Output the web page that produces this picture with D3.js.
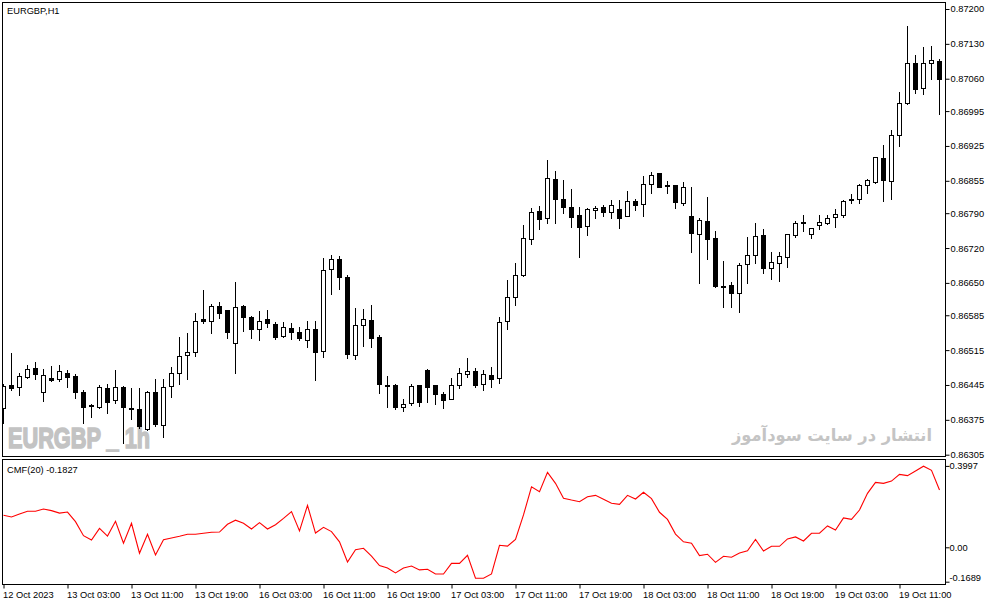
<!DOCTYPE html>
<html>
<head>
<meta charset="utf-8">
<script src="https://cdn.jsdelivr.net/npm/d3@7"></script>
<style>
  body { margin: 0; background: #fff; }
  svg text { font-family: "Liberation Sans", Arial, sans-serif; font-size: 9.3px; fill: #000; }
</style>
</head>
<body>
<div id="chart"></div>
<script>
// EURGBP H1 candles (index 0 = 12 Oct 19:00)
const opens = [0.86399,0.86445,0.86441,0.86461,0.86479,0.86431,0.86459,0.86457,0.86469,0.86463,
  0.86431,0.86405,0.86401,0.86439,0.86415,0.86441,0.86399,0.86397,0.86357,0.86431,
  0.86365,0.86443,0.86469,0.86505,0.86511,0.86578,0.86574,0.86604,0.86596,0.86529,
  0.86604,0.86582,0.86557,0.86578,0.86568,0.86543,0.86559,0.86551,0.86535,0.86557,
  0.86513,0.86678,0.86698,0.86662,0.86505,0.86566,0.86576,0.86541,0.86445,0.86445,
  0.86401,0.86409,0.86445,0.86475,0.86445,0.86427,0.86417,0.86445,0.86467,0.86473,
  0.86447,0.86465,0.86459,0.86574,0.86622,0.86666,0.86738,0.86794,0.86780,0.86859,
  0.86819,0.86802,0.86786,0.86764,0.86796,0.86802,0.86792,0.86798,0.86784,0.86815,
  0.86808,0.86849,0.86871,0.86847,0.86847,0.86810,0.86784,0.86748,0.86774,0.86740,
  0.86644,0.86646,0.86630,0.86688,0.86706,0.86746,0.86680,0.86690,0.86702,0.86746,
  0.86772,0.86748,0.86766,0.86770,0.86782,0.86786,0.86817,0.86819,0.86847,0.86853,
  0.86901,0.86855,0.86947,0.87011,0.87092,0.87041,0.87092,0.87096];
const highs = [0.86447,0.86509,0.86469,0.86485,0.86491,0.86477,0.86483,0.86485,0.86475,0.86467,
  0.86435,0.86407,0.86445,0.86447,0.86475,0.86443,0.86439,0.86439,0.86433,0.86457,
  0.86457,0.86481,0.86541,0.86549,0.86590,0.86636,0.86608,0.86612,0.86596,0.86652,
  0.86606,0.86584,0.86594,0.86596,0.86572,0.86572,0.86570,0.86562,0.86574,0.86574,
  0.86700,0.86706,0.86704,0.86666,0.86600,0.86598,0.86606,0.86545,0.86463,0.86447,
  0.86417,0.86447,0.86445,0.86477,0.86445,0.86431,0.86459,0.86479,0.86499,0.86479,
  0.86475,0.86481,0.86582,0.86656,0.86690,0.86766,0.86800,0.86804,0.86897,0.86875,
  0.86857,0.86839,0.86802,0.86800,0.86804,0.86806,0.86817,0.86817,0.86835,0.86819,
  0.86865,0.86873,0.86871,0.86855,0.86847,0.86853,0.86843,0.86780,0.86822,0.86754,
  0.86694,0.86652,0.86690,0.86742,0.86770,0.86758,0.86712,0.86712,0.86748,0.86774,
  0.86786,0.86760,0.86786,0.86786,0.86798,0.86817,0.86829,0.86849,0.86859,0.86903,
  0.86927,0.86957,0.87033,0.87166,0.87108,0.87124,0.87126,0.87100];
const lows = [0.86369,0.86435,0.86425,0.86459,0.86457,0.86413,0.86453,0.86453,0.86441,0.86419,
  0.86369,0.86381,0.86399,0.86389,0.86409,0.86328,0.86377,0.86359,0.86355,0.86363,
  0.86341,0.86421,0.86447,0.86457,0.86503,0.86570,0.86549,0.86580,0.86539,0.86469,
  0.86553,0.86539,0.86535,0.86562,0.86537,0.86541,0.86537,0.86535,0.86521,0.86455,
  0.86501,0.86628,0.86638,0.86499,0.86497,0.86523,0.86521,0.86429,0.86401,0.86397,
  0.86393,0.86405,0.86403,0.86411,0.86407,0.86399,0.86417,0.86439,0.86461,0.86441,
  0.86435,0.86441,0.86449,0.86557,0.86606,0.86664,0.86728,0.86758,0.86770,0.86770,
  0.86790,0.86762,0.86702,0.86746,0.86780,0.86784,0.86780,0.86760,0.86784,0.86796,
  0.86784,0.86830,0.86843,0.86830,0.86800,0.86806,0.86712,0.86650,0.86698,0.86642,
  0.86602,0.86602,0.86592,0.86650,0.86690,0.86670,0.86658,0.86654,0.86682,0.86742,
  0.86754,0.86740,0.86758,0.86768,0.86762,0.86782,0.86810,0.86810,0.86830,0.86851,
  0.86815,0.86819,0.86925,0.87009,0.87031,0.87029,0.87059,0.86989];
const closes = [0.86443,0.86439,0.86463,0.86477,0.86467,0.86465,0.86455,0.86473,0.86461,0.86431,
  0.86401,0.86403,0.86441,0.86411,0.86441,0.86401,0.86397,0.86363,0.86431,0.86367,
  0.86441,0.86469,0.86503,0.86511,0.86574,0.86574,0.86604,0.86590,0.86551,0.86602,
  0.86582,0.86557,0.86574,0.86570,0.86541,0.86562,0.86551,0.86539,0.86557,0.86511,
  0.86676,0.86698,0.86662,0.86507,0.86566,0.86578,0.86539,0.86447,0.86443,0.86401,
  0.86407,0.86443,0.86411,0.86441,0.86427,0.86415,0.86445,0.86469,0.86473,0.86445,
  0.86467,0.86457,0.86572,0.86622,0.86666,0.86740,0.86792,0.86778,0.86861,0.86819,
  0.86802,0.86782,0.86762,0.86798,0.86800,0.86792,0.86806,0.86780,0.86815,0.86806,
  0.86849,0.86867,0.86843,0.86845,0.86812,0.86843,0.86750,0.86776,0.86738,0.86644,
  0.86642,0.86630,0.86686,0.86706,0.86744,0.86680,0.86692,0.86704,0.86748,0.86770,
  0.86770,0.86760,0.86772,0.86780,0.86788,0.86815,0.86819,0.86847,0.86857,0.86903,
  0.86857,0.86947,0.87011,0.87092,0.87039,0.87092,0.87098,0.87059];

// Chaikin Money Flow (20), one value per bar
const cmfValues = [0.157,0.149,0.163,0.177,0.177,0.188,0.180,0.168,0.173,0.126,
  0.057,0.036,0.093,0.055,0.128,0.020,0.118,-0.029,0.064,-0.038,
  0.037,0.046,0.054,0.064,0.064,0.069,0.074,0.075,0.113,0.133,
  0.118,0.090,0.121,0.090,0.111,0.142,0.175,0.080,0.206,0.070,
  0.098,0.077,0.027,-0.072,-0.012,-0.005,-0.043,-0.090,-0.102,-0.126,
  -0.102,-0.092,-0.111,-0.108,-0.131,-0.131,-0.079,-0.079,-0.039,-0.152,
  -0.152,-0.131,0.010,0.006,0.039,0.159,0.297,0.273,0.368,0.314,
  0.241,0.232,0.224,0.248,0.255,0.236,0.216,0.211,0.255,0.237,
  0.270,0.239,0.172,0.137,0.065,0.027,0.020,-0.041,-0.034,-0.074,
  -0.044,-0.049,-0.028,-0.017,0.039,-0.018,0.005,0.005,0.041,0.051,
  0.031,0.069,0.069,0.105,0.085,0.144,0.137,0.183,0.265,0.319,
  0.314,0.325,0.358,0.352,0.375,0.398,0.378,0.281];

// Time axis labels, one every 8 bars
const timeLabels = ["12 Oct 2023", "13 Oct 03:00", "13 Oct 11:00", "13 Oct 19:00", "16 Oct 03:00",
  "16 Oct 11:00", "16 Oct 19:00", "17 Oct 03:00", "17 Oct 11:00", "17 Oct 19:00",
  "18 Oct 03:00", "18 Oct 11:00", "18 Oct 19:00", "19 Oct 03:00", "19 Oct 11:00"];
const priceTicks = ["0.87200", "0.87130", "0.87060", "0.86995", "0.86925", "0.86855", "0.86790",
  "0.86720", "0.86650", "0.86585", "0.86515", "0.86445", "0.86375", "0.86305"];
const cmfTicks = ["0.3997", "0.00", "-0.1689"];

const symbolTitle = "EURGBP,H1";
const cmfTitle = "CMF(20) -0.1827";

class CandleChart {
  constructor(_config) {
    this.config = {
      parentElement: _config.parentElement,
      containerWidth: _config.containerWidth || 991,
      containerHeight: _config.containerHeight || 605,
      left: 2.5,
      right: 945.5,
      mainTop: 2.5,
      mainBottom: 456.5,
      subTop: 459.5,
      subBottom: 584.5,
    };
    this.bars = opens.map((o, i) => ({ i: i, open: o, high: highs[i], low: lows[i], close: closes[i] }));
    this.initVis();
  }

  initVis() {
    let vis = this;
    const c = vis.config;

    vis.svg = d3
      .select(c.parentElement)
      .append("svg")
      .attr("width", c.containerWidth)
      .attr("height", c.containerHeight)
      .style("display", "block");

    vis.svg.append("rect").attr("width", c.containerWidth).attr("height", c.containerHeight).attr("fill", "#fff");

    // bar i sits at 3 + 8 * i
    vis.xScale = d3.scaleLinear().domain([0, 117]).range([3, 939]);
    vis.yScale = d3.scaleLinear().domain([0.86305, 0.872]).range([454.7, 9]);
    vis.cmfScale = d3.scaleLinear().domain([-0.1689, 0.3997]).range([581.7, 465.9]);

    vis.svg
      .append("clipPath")
      .attr("id", "main-clip")
      .append("rect")
      .attr("x", c.left + 0.5)
      .attr("y", c.mainTop + 0.5)
      .attr("width", c.right - c.left - 1)
      .attr("height", c.mainBottom - c.mainTop - 1);

    vis.svg
      .append("clipPath")
      .attr("id", "sub-clip")
      .append("rect")
      .attr("x", c.left + 0.5)
      .attr("y", c.subTop + 0.5)
      .attr("width", c.right - c.left - 1)
      .attr("height", c.subBottom - c.subTop - 1);

    vis.watermarks = vis.svg.append("g");
    vis.main = vis.svg.append("g").attr("clip-path", "url(#main-clip)");
    vis.sub = vis.svg.append("g").attr("clip-path", "url(#sub-clip)");
    vis.frames = vis.svg.append("g");

    vis.renderVis();
  }

  renderVis() {
    let vis = this;
    const c = vis.config;
    const x = (i) => Math.round(vis.xScale(i));

    // Watermarks behind candles
    vis.watermarks
      .append("text")
      .attr("x", 8)
      .attr("y", 448)
      .attr("textLength", 142)
      .attr("lengthAdjust", "spacingAndGlyphs")
      .style("font-size", "29px")
      .style("font-weight", "bold")
      .style("fill", "#c3c3c3")
      .style("stroke", "#c3c3c3")
      .style("stroke-width", 1.6)
      .text("EURGBP _ 1h");

    vis.watermarks
      .append("text")
      .attr("x", 732)
      .attr("y", 441)
      .attr("textLength", 200)
      .attr("lengthAdjust", "spacingAndGlyphs")
      .style("font-family", "'DejaVu Sans', sans-serif")
      .style("font-size", "17px")
      .style("font-weight", "bold")
      .style("fill", "#c4c4c4")
      .text("انتشار در سایت سودآموز");

    // Candles
    const candles = vis.main.selectAll("g.candle").data(vis.bars).join("g").attr("class", "candle");

    candles
      .append("line")
      .attr("x1", (d) => x(d.i) + 0.5)
      .attr("x2", (d) => x(d.i) + 0.5)
      .attr("y1", (d) => Math.round(vis.yScale(d.high)))
      .attr("y2", (d) => Math.round(vis.yScale(d.low)) + 1)
      .attr("stroke", "#000")
      .attr("stroke-width", 1);

    candles
      .append("rect")
      .attr("x", (d) => x(d.i) - 1.5)
      .attr("y", (d) => Math.round(vis.yScale(Math.max(d.open, d.close))) + 0.5)
      .attr("width", 4)
      .attr("height", (d) => Math.max(1, Math.round(Math.abs(vis.yScale(d.open) - vis.yScale(d.close)))))
      .attr("fill", (d) => (d.close >= d.open ? "#fff" : "#000"))
      .attr("stroke", "#000")
      .attr("stroke-width", 1);

    // CMF line
    const line = d3
      .line()
      .x((d, i) => x(i) + 0.5)
      .y((d) => vis.cmfScale(d));

    vis.sub
      .append("path")
      .datum(cmfValues)
      .attr("d", line)
      .attr("fill", "none")
      .attr("stroke", "#ff0000")
      .attr("stroke-width", 1.1);

    // Frames
    [
      [c.mainTop, c.mainBottom],
      [c.subTop, c.subBottom],
    ].forEach(([t, b]) => {
      vis.frames
        .append("rect")
        .attr("x", c.left)
        .attr("y", t)
        .attr("width", c.right - c.left)
        .attr("height", b - t)
        .attr("fill", "none")
        .attr("stroke", "#000")
        .attr("stroke-width", 1);
    });

    // Price axis
    const yAxis = d3
      .axisRight(vis.yScale)
      .tickValues(priceTicks.map(Number))
      .tickFormat((d, i) => priceTicks[i])
      .tickSize(4)
      .tickPadding(1);

    vis.svg
      .append("g")
      .attr("transform", `translate(${c.right},0)`)
      .call(yAxis)
      .call((g) => g.select(".domain").remove())
      .call((g) => g.selectAll("text").attr("font-size", null).attr("font-family", null))
      .call((g) => g.selectAll("line").attr("stroke", "#000"));

    // CMF axis
    const cmfAxis = d3
      .axisRight(vis.cmfScale)
      .tickValues(cmfTicks.map(Number))
      .tickFormat((d, i) => cmfTicks[i])
      .tickSize(4)
      .tickPadding(0);

    vis.svg
      .append("g")
      .attr("transform", `translate(${c.right},0)`)
      .call(cmfAxis)
      .call((g) => g.select(".domain").remove())
      .call((g) => g.selectAll("text").attr("font-size", null).attr("font-family", null))
      .call((g) => g.selectAll(".tick").filter((d) => d < 0).select("text").attr("dy", "-0.18em"))
      .call((g) => g.selectAll("line").attr("stroke", "#000"));

    // Time axis
    const xAxis = d3
      .axisBottom(vis.xScale)
      .tickValues(timeLabels.map((d, i) => i * 8))
      .tickFormat((d, i) => timeLabels[i])
      .tickSize(4)
      .tickPadding(3);

    vis.svg
      .append("g")
      .attr("transform", `translate(0.5,${c.subBottom})`)
      .call(xAxis)
      .call((g) => g.select(".domain").remove())
      .call((g) =>
        g.selectAll("text").attr("font-size", null).attr("font-family", null).attr("text-anchor", "start").attr("x", -1)
      )
      .call((g) => g.selectAll("line").attr("stroke", "#000"));

    // Titles
    vis.svg.append("text").attr("x", 7).attr("y", 14).text(symbolTitle);
    vis.svg.append("text").attr("x", 7).attr("y", 472.5).text(cmfTitle);
  }
}

new CandleChart({ parentElement: "#chart" });
</script>
</body>
</html>
